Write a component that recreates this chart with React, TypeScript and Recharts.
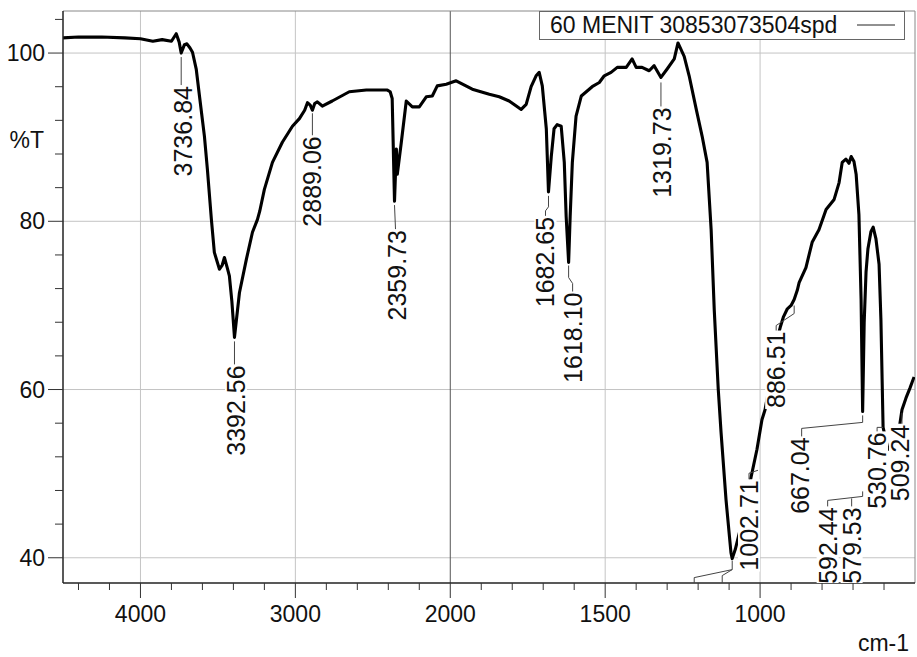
import {
    CartesianGrid,
    Legend,
    Line,
    LineChart,
    ReferenceDot,
    ReferenceLine,
    XAxis,
    YAxis,
} from 'recharts'

// spectrum (cm-1 / %T)
const wavenumber = [
    4500, 4400, 4250, 4100, 4000, 3920, 3860, 3800, 3769, 3750,
    3737, 3716, 3700, 3680, 3664, 3640, 3619, 3587, 3568, 3542,
    3523, 3490, 3472, 3458, 3440, 3426, 3410, 3393, 3361, 3316,
    3277, 3245, 3230, 3200, 3148, 3084, 3019, 2974, 2940, 2922,
    2904, 2890, 2875, 2858, 2826, 2762, 2652, 2542, 2406, 2388,
    2375, 2360, 2348, 2342, 2316, 2284, 2245, 2200, 2155, 2116,
    2084, 2026, 1981, 1929, 1874, 1842, 1810, 1787, 1771, 1755,
    1739, 1723, 1713, 1703, 1690, 1683, 1674, 1665, 1655, 1642,
    1632, 1626, 1618, 1613, 1606, 1594, 1577, 1561, 1542, 1519,
    1503, 1481, 1461, 1432, 1413, 1400, 1381, 1358, 1342, 1320,
    1300, 1277, 1265, 1245, 1229, 1206, 1187, 1171, 1158, 1148,
    1135, 1126, 1110, 1094, 1090, 1080, 1060, 1040, 1029, 1010,
    994, 984, 965, 945, 935, 925, 912, 900, 890, 880,
    874, 852, 832, 810, 787, 761, 745, 735, 723, 713,
    706, 697, 690, 681, 674, 669, 664, 658, 652, 642,
    635, 626, 616, 610, 603, 587, 561, 542, 529, 516,
    503,
]

const transmittance = [
    101.8, 101.9, 101.9, 101.8, 101.7, 101.4, 101.6, 101.4, 102.3, 101.3,
    100.0, 101.0, 101.1, 100.6, 100.1, 98.1, 94.9, 90.1, 86.2, 80.2,
    76.3, 74.3, 74.8, 75.7, 74.5, 73.5, 70.5, 66.2, 71.5, 75.5,
    78.7, 80.2, 81.2, 83.8, 87.0, 89.4, 91.3, 92.2, 93.2, 94.1,
    93.8, 93.2, 94.0, 94.2, 93.7, 94.3, 95.4, 95.6, 95.6, 95.4,
    94.6, 82.4, 88.6, 85.6, 89.4, 94.3, 93.6, 93.6, 94.8, 94.9,
    96.1, 96.3, 96.7, 95.7, 95.1, 94.8, 94.3, 93.7, 93.3, 93.9,
    96.0, 97.3, 97.7, 96.1, 91.0, 83.5, 87.7, 91.0, 91.5, 91.3,
    87.0, 80.6, 75.1, 80.6, 87.0, 92.5, 94.9, 95.4, 96.0, 96.5,
    97.3, 97.7, 98.3, 98.3, 99.3, 98.3, 98.3, 97.9, 98.5, 97.1,
    98.1, 99.3, 101.2, 99.6, 97.3, 93.3, 90.1, 87.0, 79.0, 69.5,
    60.0, 54.9, 46.9, 40.6, 39.9, 41.0, 44.0, 47.5, 49.6, 52.9,
    56.4, 57.6, 61.5, 66.0, 67.4, 68.6, 69.6, 70.0, 70.7, 71.8,
    72.7, 74.5, 77.5, 79.0, 81.4, 82.6, 84.6, 87.0, 87.4, 86.9,
    87.7, 87.1, 85.6, 80.8, 70.7, 57.4, 68.0, 74.0, 76.7, 78.8,
    79.3, 77.9, 74.9, 68.3, 55.5, 52.9, 52.9, 57.6, 59.0, 60.2,
    61.5,
]

// peak picking labels and the curve point each leader starts from
const peakLabels = [
    '3736.84', '3392.56', '2889.06', '2359.73', '1682.65', '1618.10', '1319.73',
    '1002.71', '886.51', '667.04', '530.76', '509.24', '592.44', '579.53', '',
]
const peakWavenumber = [3737, 3393, 2890, 2360, 1683, 1618, 1320, 1010, 890, 669, 603, 542, 669, 669, 1090]
const peakTransmittance = [100.0, 66.2, 93.2, 82.4, 83.5, 75.1, 97.1, 52.9, 70.7, 57.4, 55.5, 57.6, 57.4, 57.4, 39.9]

const majorWavenumbers = [4000, 3000, 2000, 1500, 1000]
const transmittanceLabels = [40, 60, 80, 100]
const seriesName = '60 MENIT 30853073504spd'

// where each label sits relative to its peak (px) and how the leader is drawn
const labelLayout = [
    { dx: 2, top: 33, leaders: [[[0, 4], [0, 32]]] },
    { dx: 1.5, top: 28, leaders: [[[0, 4], [0, 27]]] },
    { dx: 0, top: 26, leaders: [[[0, 3], [0, 25]]] },
    { dx: 2, top: 29, leaders: [[[0, 4], [1, 28]]] },
    { dx: -3, top: 25, leaders: [[[0, 4], [0, 15], [-3, 19], [-3, 24]]] },
    { dx: 4, top: 30, leaders: [[[0, 3], [0, 15], [4, 21], [4, 29]]] },
    { dx: 1, top: 30, leaders: [[[0, 5], [0, 29]]] },
    { dx: -8, top: 31, leaders: [[[1, 21], [-8, 24], [-8, 30]]] },
    { dx: -18, top: 32, leaders: [[[0, 6], [0, 14], [-18, 26], [-18, 31]]] },
    { dx: -63, top: 26, leaders: [[[0, 4], [0, 11], [-61, 17], [-61, 25]]] },
    { dx: -6, top: 5, leaders: [[[0, 0], [-6, 0], [-6, 4]]] },
    { dx: -2, top: 15, leaders: [[[0, 3], [0, 14]]] },
    { dx: -35, top: 96, leaders: [[[-35, 95], [-35, 89], [0, 85], [0, 80]]] },
    { dx: -11, top: 96, leaders: [[[-11, 95], [-11, 87]]] },
    { dx: 0, top: 0, leaders: [[[0, 2], [0, 11], [-38, 19], [-38, 25]], [[0, 11], [-10, 17], [-10, 25]]] },
]

const PLOT = { left: 63, top: 11, right: 915, bottom: 583 }
const FONT = '"Liberation Sans", Arial, sans-serif'

// the axis is stretched 2x below 2000 cm-1
const toAxis = (wn: number) => (wn > 2000 ? 2000 + (wn - 2000) / 2 : wn)
const fromAxis = (u: number) => (u > 2000 ? 2000 + (u - 2000) * 2 : u)

const data = wavenumber.map((wn, i) => ({ u: toAxis(wn), t: transmittance[i] }))

const majorAxis = majorWavenumbers.map(toAxis)
const xTicks = Array.from({ length: 27 }, (_, i) => 600 + i * 100)
const yTicks = Array.from({ length: 17 }, (_, i) => 40 + i * 4)

function XTick({ x, y, payload }: any) {
    const major = majorAxis.includes(payload.value)
    return (
        <g>
            <line x1={x} y1={y} x2={x} y2={y + (major ? 15 : 7)} stroke="#333" />
            {major && (
                <text x={x} y={y + 39} textAnchor="middle" fontSize={23} fill="#111" fontFamily={FONT}>
                    {fromAxis(payload.value)}
                </text>
            )}
        </g>
    )
}

function YTick({ x, y, payload }: any) {
    const major = transmittanceLabels.includes(payload.value)
    return (
        <g>
            <line x1={x - (major ? 15 : 8)} y1={y} x2={x} y2={y} stroke="#333" />
            {major && (
                <text x={x - 18} y={y + 8} textAnchor="end" fontSize={23} fill="#111" fontFamily={FONT}>
                    {payload.value}
                </text>
            )}
        </g>
    )
}

const textLength = (s: string, size: number) =>
    s.split('').reduce((w, c) => w + (c === '.' ? 0.278 : 0.556), 0) * size

function PeakMark({ cx, cy, idx }: any) {
    const text = peakLabels[idx]
    const lay = labelLayout[idx]
    const lx = cx + lay.dx
    const ly = cy + lay.top
    const len = textLength(text, 25)
    const clipId = `peak-clip-${idx}`
    return (
        <g>
            <defs>
                <clipPath id={clipId}>
                    <rect x={PLOT.left} y={PLOT.top} width={PLOT.right - PLOT.left} height={PLOT.bottom - PLOT.top} />
                </clipPath>
            </defs>
            <g clipPath={`url(#${clipId})`}>
                {text && <rect x={lx - 11} y={ly - 1} width={22} height={len + 2} fill="#fff" />}
                {lay.leaders.map((pts: number[][], k: number) => (
                    <polyline
                        key={k}
                        points={pts.map(([a, b]) => `${cx + a},${cy + b}`).join(' ')}
                        fill="none"
                        stroke="#444"
                        strokeWidth={1}
                    />
                ))}
                {text && (
                    <text
                        transform={`translate(${lx},${ly}) rotate(-90)`}
                        textAnchor="end"
                        dominantBaseline="central"
                        fontSize={25}
                        fill="#111"
                        fontFamily={FONT}
                    >
                        {text}
                    </text>
                )}
            </g>
        </g>
    )
}

function LegendBox({ payload }: any) {
    const name = payload && payload[0] ? payload[0].value : seriesName
    return (
        <svg width={366} height={29} style={{ display: 'block' }}>
            <rect x={0.5} y={0.5} width={365} height={28} fill="#fff" stroke="#666" />
            <text x={11} y={22} fontSize={23} fill="#111" fontFamily={FONT}>
                {name}
            </text>
            <line x1={318} y1={14} x2={356} y2={14} stroke="#222" />
        </svg>
    )
}

export default function App() {
    return (
        <div style={{ position: 'absolute', left: 0, top: 0 }}>
            <LineChart
                width={917}
                height={657}
                data={data}
                margin={{ top: PLOT.top, right: 917 - PLOT.right, bottom: 0, left: 0 }}
                style={{ fontFamily: FONT, background: '#fff' }}
            >
                <CartesianGrid
                    stroke="#c4c4c4"
                    verticalValues={majorAxis.filter((u) => u !== 2000)}
                    horizontalValues={transmittanceLabels}
                />
                <ReferenceLine x={2000} stroke="#555" />
                <ReferenceLine y={105} stroke="#888" />
                <ReferenceLine x={500} stroke="#888" />
                <XAxis
                    dataKey="u"
                    type="number"
                    domain={[500, 3250]}
                    reversed
                    allowDataOverflow
                    ticks={xTicks}
                    interval={0}
                    tickSize={0}
                    tickMargin={0}
                    tickLine={false}
                    tick={(p: any) => <XTick {...p} />}
                    axisLine={{ stroke: '#222', strokeWidth: 1.5 }}
                    height={657 - PLOT.bottom}
                    label={{ value: 'cm-1', position: 'insideBottomRight', offset: 6, fontSize: 23, fill: '#111' }}
                />
                <YAxis
                    type="number"
                    domain={[37, 105]}
                    allowDataOverflow
                    ticks={yTicks}
                    interval={0}
                    tickSize={0}
                    tickMargin={0}
                    tickLine={false}
                    tick={(p: any) => <YTick {...p} />}
                    axisLine={{ stroke: '#222', strokeWidth: 1.5 }}
                    width={PLOT.left}
                    label={{
                        value: '%T',
                        content: ({ viewBox }: any) => (
                            <text
                                x={viewBox.x + viewBox.width - 19}
                                y={viewBox.y + 137}
                                textAnchor="end"
                                fontSize={23}
                                fill="#111"
                                fontFamily={FONT}
                            >
                                %T
                            </text>
                        ),
                    }}
                />
                <Line
                    type="linear"
                    dataKey="t"
                    name={seriesName}
                    stroke="#000"
                    strokeWidth={3.1}
                    strokeLinejoin="round"
                    dot={false}
                    isAnimationActive={false}
                />
                {peakLabels.map((_, i) => (
                    <ReferenceDot
                        key={i}
                        x={toAxis(peakWavenumber[i])}
                        y={peakTransmittance[i]}
                        r={0}
                        shape={(p: any) => <PeakMark {...p} idx={i} />}
                    />
                ))}
                <Legend
                    layout="horizontal"
                    verticalAlign="middle"
                    align="center"
                    wrapperStyle={{ left: 539, top: PLOT.top, width: 366, height: 29 }}
                    content={(p: any) => <LegendBox {...p} />}
                />
            </LineChart>
        </div>
    )
}
